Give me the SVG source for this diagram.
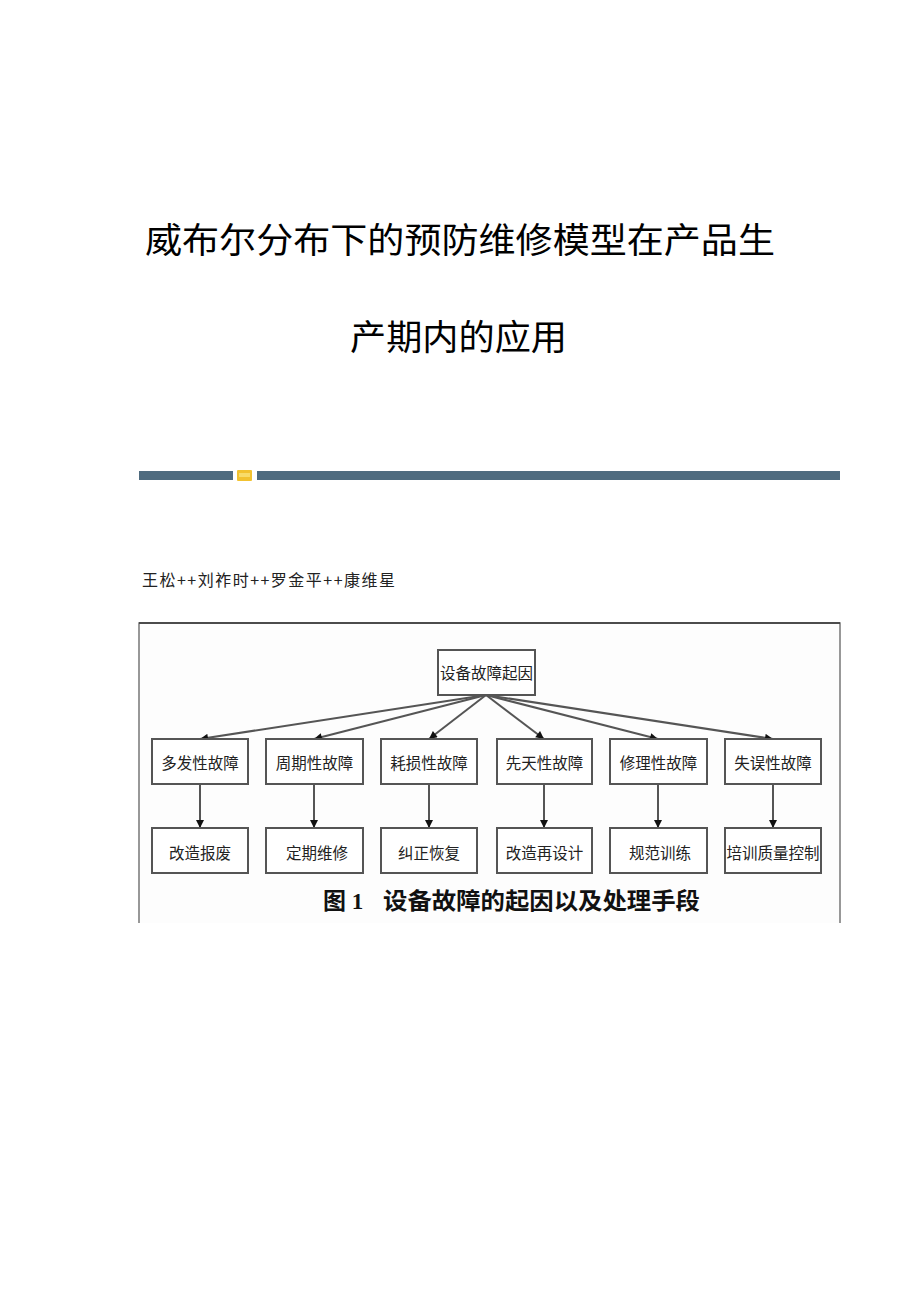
<svg xmlns="http://www.w3.org/2000/svg" width="920" height="1302" viewBox="0 0 920 1302">
<defs>
<style>
.title{font-family:"Noto Sans CJK SC","Noto Sans CJK JP",sans-serif;font-size:35px;fill:#000;}
.author{font-family:"Noto Sans CJK SC",sans-serif;font-size:16px;fill:#222;}
.box{fill:#fff;stroke:#555;stroke-width:2;}
.lbl{font-family:"Noto Sans CJK SC",sans-serif;font-size:15.5px;fill:#222;text-anchor:middle;dominant-baseline:central;}
.edge{stroke:#555;stroke-width:2;fill:none;marker-end:url(#ah);}
.cap{font-family:"Liberation Serif","Noto Sans CJK SC",serif;font-size:23px;font-weight:bold;fill:#111;}
.capc{font-family:"Noto Sans CJK SC",sans-serif;font-size:23px;font-weight:bold;fill:#111;}
</style>
<marker id="ah" viewBox="0 0 10 10" refX="10" refY="5" markerWidth="11" markerHeight="8" markerUnits="userSpaceOnUse" orient="auto">
<path d="M0,0 L10,5 L0,10 z" fill="#111"/>
</marker>
</defs>
<rect width="920" height="1302" fill="#fff"/>
<g id="title">
<text class="title" x="145" y="253" textLength="630" lengthAdjust="spacingAndGlyphs">威布尔分布下的预防维修模型在产品生</text>
<text class="title" x="350" y="350" textLength="217" lengthAdjust="spacingAndGlyphs">产期内的应用</text>
</g>
<g id="separator">
<rect x="139" y="471" width="94" height="9" fill="#4f6b7f"/>
<rect x="237" y="470" width="15" height="11" rx="1" fill="#f2c230"/>
<rect x="239" y="473" width="11" height="4" fill="#f8dc6a"/>
<rect x="257" y="471" width="583" height="9" fill="#4f6b7f"/>
</g>
<g id="authors">
<text class="author" x="142" y="586" textLength="253" lengthAdjust="spacing">王松++刘祚时++罗金平++康维星</text>
</g>
<g id="figure-frame">
<rect x="139" y="623" width="701" height="300" fill="#fdfdfd"/>
<path d="M139,923 L139,623 L840,623 L840,923" fill="none" stroke="#777" stroke-width="1.5"/>
<line x1="139" y1="623" x2="840" y2="623" stroke="#333" stroke-width="1.5"/>
</g>
<g id="connectors">
<line class="edge" x1="486" y1="695" x2="200" y2="739"/>
<line class="edge" x1="486" y1="695" x2="314" y2="739"/>
<line class="edge" x1="486" y1="695" x2="429" y2="739"/>
<line class="edge" x1="486" y1="695" x2="544" y2="739"/>
<line class="edge" x1="486" y1="695" x2="658" y2="739"/>
<line class="edge" x1="486" y1="695" x2="773" y2="739"/>
<line class="edge" x1="200" y1="784" x2="200" y2="828"/>
<line class="edge" x1="314" y1="784" x2="314" y2="828"/>
<line class="edge" x1="429" y1="784" x2="429" y2="828"/>
<line class="edge" x1="544" y1="784" x2="544" y2="828"/>
<line class="edge" x1="658" y1="784" x2="658" y2="828"/>
<line class="edge" x1="773" y1="784" x2="773" y2="828"/>
</g>
<g id="n-root"><rect class="box" x="438" y="650" width="97" height="45"/><text class="lbl" x="486.5" y="672">设备故障起因</text></g>
<g id="n-c1"><rect class="box" x="152" y="739" width="96" height="45"/><text class="lbl" x="200" y="762">多发性故障</text></g>
<g id="n-c2"><rect class="box" x="266" y="739" width="97" height="45"/><text class="lbl" x="314.5" y="762">周期性故障</text></g>
<g id="n-c3"><rect class="box" x="381" y="739" width="96" height="45"/><text class="lbl" x="429" y="762">耗损性故障</text></g>
<g id="n-c4"><rect class="box" x="497" y="739" width="95" height="45"/><text class="lbl" x="544.5" y="762">先天性故障</text></g>
<g id="n-c5"><rect class="box" x="610" y="739" width="97" height="45"/><text class="lbl" x="658.5" y="762">修理性故障</text></g>
<g id="n-c6"><rect class="box" x="725" y="739" width="96" height="45"/><text class="lbl" x="773" y="762">失误性故障</text></g>
<g id="n-r1"><rect class="box" x="152" y="828" width="96" height="45"/><text class="lbl" x="200" y="852">改造报废</text></g>
<g id="n-r2"><rect class="box" x="266" y="828" width="97" height="45"/><text class="lbl" x="317" y="852">定期维修</text></g>
<g id="n-r3"><rect class="box" x="381" y="828" width="96" height="45"/><text class="lbl" x="429" y="852">纠正恢复</text></g>
<g id="n-r4"><rect class="box" x="497" y="828" width="95" height="45"/><text class="lbl" x="544.5" y="852">改造再设计</text></g>
<g id="n-r5"><rect class="box" x="610" y="828" width="97" height="45"/><text class="lbl" x="660" y="852">规范训练</text></g>
<g id="n-r6"><rect class="box" x="725" y="828" width="96" height="45"/><text class="lbl" x="773" y="852">培训质量控制</text></g>
<g id="caption">
<text class="cap" x="323" y="909">图 1</text>
<text class="capc" x="383" y="909" textLength="317" lengthAdjust="spacingAndGlyphs">设备故障的起因以及处理手段</text>
</g>
</svg>
